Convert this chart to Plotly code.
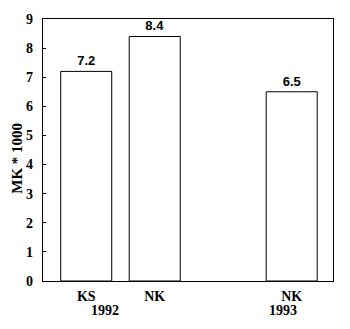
import plotly.graph_objects as go

# Data
categories = ["KS", "NK", "NK"]
years = ["1992", "1993"]
values = [7.2, 8.4, 6.5]
value_labels = ["7.2", "8.4", "6.5"]
y_ticks = [0, 1, 2, 3, 4, 5, 6, 7, 8, 9]

# Layout positions (not data)
x_pos = [1, 2, 4]
year_pos = [1.27, 3.87]

fig = go.Figure()
fig.add_trace(go.Bar(
    x=x_pos, y=values, width=0.745,
    marker=dict(color="white", line=dict(color="black", width=1)),
    text=["<b>%s</b>" % v for v in value_labels], textposition="outside",
    textfont=dict(family="Liberation Sans", size=13, color="black"),
    cliponaxis=False,
))

for yr, xp in zip(years, year_pos):
    fig.add_annotation(x=xp, y=0, xref="x", yref="y", text="<b>%s</b>" % yr, showarrow=False,
                       yshift=-29, font=dict(family="Liberation Serif", size=14, color="black"))

fig.add_annotation(x=-0.09, y=0.47, xref="paper", yref="paper", text="<b>MK * 1000</b>",
                   textangle=-90, showarrow=False, xanchor="center", yanchor="middle",
                   font=dict(family="Liberation Serif", size=15, color="black"))

fig.update_layout(
    width=350, height=329,
    margin=dict(l=43, r=17, t=17, b=48),
    plot_bgcolor="white", paper_bgcolor="white",
    showlegend=False,
    uniformtext=dict(mode=False),
)
fig.update_xaxes(
    range=[0.369, 4.603], tickvals=x_pos, ticktext=["<b>%s</b>" % c for c in categories],
    showline=True, linecolor="black", linewidth=1.2, mirror=True,
    ticks="", showgrid=False, zeroline=False,
    tickfont=dict(family="Liberation Serif", size=14, color="black"),
    ticklabelstandoff=2,
)
fig.update_yaxes(
    range=[0, 9], tickvals=y_ticks, ticktext=["<b>%d</b>" % t for t in y_ticks],
    showline=True, linecolor="black", linewidth=1.2, mirror=True,
    ticks="inside", ticklen=3, tickcolor="black", showgrid=False, zeroline=False,
    tickfont=dict(family="Liberation Serif", size=14, color="black"),
    ticklabelstandoff=6,
)
fig.write_html("out.html")
